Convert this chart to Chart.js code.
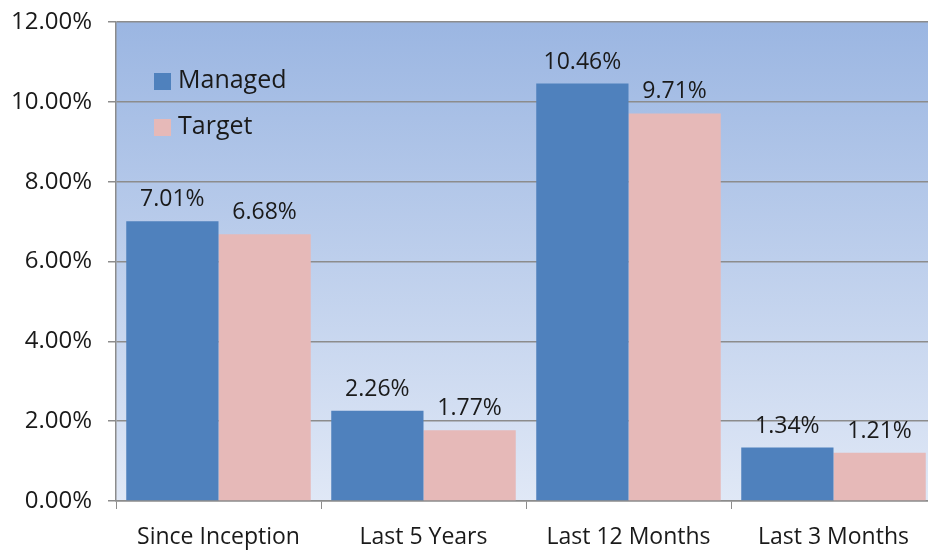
<!DOCTYPE html>
<html>
<head>
<meta charset="utf-8">
<script src="https://cdn.jsdelivr.net/npm/chart.js@4.4.1/dist/chart.umd.min.js"></script>
<style>
  html, body { margin: 0; padding: 0; background: #fff; overflow: hidden; }
  #wrap { width: 940px; height: 550px; }
</style>
</head>
<body>
<div id="wrap"><canvas id="chartReturns" width="940" height="550"></canvas></div>
<script>
// data
const categories = ['Since Inception', 'Last 5 Years', 'Last 12 Months', 'Last 3 Months'];
const managed = [7.01, 2.26, 10.46, 1.34];
const target = [6.68, 1.77, 9.71, 1.21];
const seriesNames = ['Managed', 'Target'];
const yTicks = [0, 2, 4, 6, 8, 10, 12];

const fontFamily = "'Open Sans', 'Liberation Sans', sans-serif";

// gradient behind the plot area
const bgPlugin = {
    id: 'plotBg',
    beforeDraw(chart) {
        const a = chart.chartArea;
        const ctx = chart.ctx;
        const g = ctx.createLinearGradient(0, a.top, 0, a.bottom);
        g.addColorStop(0, '#9bb6e2');
        g.addColorStop(1, '#e0e8f6');
        ctx.save();
        ctx.fillStyle = g;
        ctx.fillRect(a.left, a.top, a.right - a.left, a.bottom - a.top);
        ctx.restore();
    }
};

// value labels above bars
const labelPlugin = {
    id: 'valueLabels',
    afterDatasetsDraw(chart) {
        const ctx = chart.ctx;
        ctx.save();
        ctx.font = '23px ' + fontFamily;
        ctx.fillStyle = '#1a1a1a';
        ctx.textAlign = 'center';
        ctx.textBaseline = 'bottom';
        chart.data.datasets.forEach(function(ds, i) {
            chart.getDatasetMeta(i).data.forEach(function(bar, j) {
                ctx.fillText(ds.data[j].toFixed(2) + '%', bar.x, bar.y - 10);
            });
        });
        ctx.restore();
    }
};

// legend drawn inside the plot area
const legendPlugin = {
    id: 'innerLegend',
    afterDraw(chart) {
        const ctx = chart.ctx;
        const a = chart.chartArea;
        ctx.save();
        ctx.font = '25px ' + fontFamily;
        ctx.textBaseline = 'middle';
        chart.data.datasets.forEach(function(ds, i) {
            const y = a.top + 59 + i * 46;
            const x = a.left + 38;
            ctx.fillStyle = ds.backgroundColor;
            ctx.fillRect(x, y - 8, 17, 17);
            ctx.fillStyle = '#1a1a1a';
            ctx.fillText(ds.label, x + 24, y);
        });
        ctx.restore();
    }
};

const ctx1 = document.getElementById('chartReturns');
new Chart(ctx1.getContext('2d'), {
    type: 'bar',
    data: {
        labels: categories,
        datasets: [{
            label: seriesNames[0],
            data: managed,
            backgroundColor: '#4f81bd',
            categoryPercentage: 0.9,
            barPercentage: 1.0
        }, {
            label: seriesNames[1],
            data: target,
            backgroundColor: '#e6b9b8',
            categoryPercentage: 0.9,
            barPercentage: 1.0
        }]
    },
    options: {
        responsive: false,
        animation: false,
        layout: { padding: { top: 22, right: 4, left: 0, bottom: 0 } },
        plugins: {
            legend: { display: false },
            tooltip: { enabled: false }
        },
        scales: {
            x: {
                afterFit(scale) {
                    scale.height = 49;
                    scale.paddingLeft = 0;
                    scale.paddingRight = 0;
                },
                ticks: {
                    color: '#1a1a1a',
                    padding: 15,
                    font: { size: 23, family: fontFamily }
                },
                grid: {
                    display: true,
                    drawOnChartArea: false,
                    drawTicks: true,
                    tickLength: 8,
                    color: '#8c8c8c',
                    offset: true
                },
                border: { display: true, color: '#8c8c8c', width: 1.5 }
            },
            y: {
                min: 0,
                max: 12,
                afterFit(scale) {
                    scale.width = 116;
                    scale.paddingTop = 0;
                    scale.paddingBottom = 0;
                },
                afterBuildTicks(scale) {
                    scale.ticks = yTicks.map(function(v) { return { value: v }; });
                },
                ticks: {
                    color: '#1a1a1a',
                    padding: 16,
                    font: { size: 24, family: fontFamily },
                    callback: function(v) { return v.toFixed(2) + '%'; }
                },
                grid: {
                    color: '#8c8c8c',
                    lineWidth: 1.5,
                    tickLength: 8
                },
                border: { display: true, color: '#8c8c8c', width: 1.5 }
            }
        }
    },
    plugins: [bgPlugin, labelPlugin, legendPlugin]
});
</script>
</body>
</html>
